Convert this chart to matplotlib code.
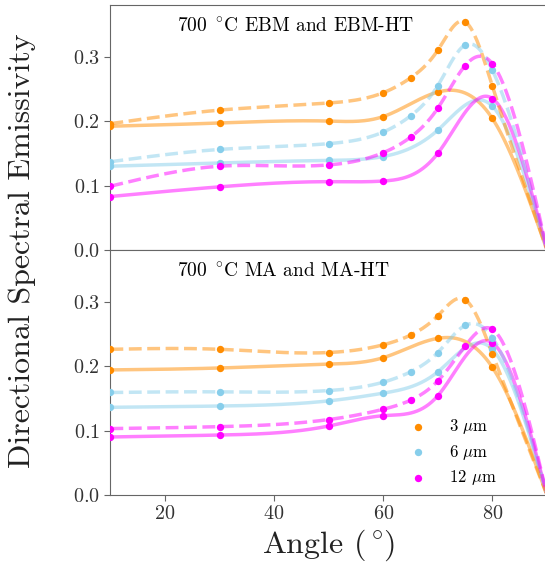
import numpy as np
import matplotlib as mpl; mpl.use("Agg")
import matplotlib.pyplot as plt

mpl.rcParams.update({"font.family": ["cmr10", "DejaVu Serif"], "mathtext.fontset": "cm",
                     "axes.formatter.use_mathtext": True, "axes.unicode_minus": False})

# angles measured (deg); the "fine" set has the extra 65/75 deg points
ang = [10, 30, 50, 60, 70, 80, 90]
ang_fine = [10, 30, 50, 60, 65, 70, 75, 80, 90]

# top panel: 700 C EBM (solid) and EBM-HT (dashed)
ebm_3 = [0.192, 0.197, 0.200, 0.207, 0.245, 0.204, 0.0]
ebm_6 = [0.130, 0.135, 0.139, 0.145, 0.186, 0.223, 0.0]
ebm_12 = [0.083, 0.098, 0.106, 0.107, 0.150, 0.235, 0.0]
ebmht_3 = [0.196, 0.217, 0.228, 0.244, 0.267, 0.310, 0.354, 0.254, 0.0]
ebmht_6 = [0.137, 0.156, 0.165, 0.183, 0.208, 0.255, 0.318, 0.279, 0.0]
ebmht_12 = [0.099, 0.130, 0.132, 0.151, 0.175, 0.220, 0.286, 0.289, 0.0]

# bottom panel: 700 C MA (solid) and MA-HT (dashed)
ma_3 = [0.194, 0.197, 0.203, 0.213, 0.243, 0.198, 0.0]
ma_6 = [0.136, 0.138, 0.146, 0.158, 0.191, 0.226, 0.0]
ma_12 = [0.090, 0.093, 0.107, 0.123, 0.154, 0.236, 0.0]
maht_3 = [0.226, 0.226, 0.221, 0.233, 0.248, 0.278, 0.303, 0.219, 0.0]
maht_6 = [0.159, 0.160, 0.162, 0.175, 0.191, 0.221, 0.263, 0.244, 0.0]
maht_12 = [0.103, 0.106, 0.117, 0.133, 0.147, 0.177, 0.231, 0.257, 0.0]

waves = ["3 $\\mu$m", "6 $\\mu$m", "12 $\\mu$m"]
cols = ["darkorange", "skyblue", "magenta"]


def spline(x, y, n=300):
    # natural cubic spline through the measured points
    x = np.asarray(x, float); y = np.asarray(y, float)
    h = np.diff(x); m = len(x)
    A = np.zeros((m, m)); b = np.zeros(m)
    A[0, 0] = A[-1, -1] = 1
    for i in range(1, m - 1):
        A[i, i - 1], A[i, i], A[i, i + 1] = h[i - 1], 2 * (h[i - 1] + h[i]), h[i]
        b[i] = 6 * ((y[i + 1] - y[i]) / h[i] - (y[i] - y[i - 1]) / h[i - 1])
    M = np.linalg.solve(A, b)
    xs = np.linspace(x[0], x[-1], n)
    k = np.clip(np.searchsorted(x, xs) - 1, 0, m - 2)
    t0 = x[k + 1] - xs; t1 = xs - x[k]
    ys = (M[k] * t0 ** 3 + M[k + 1] * t1 ** 3) / (6 * h[k]) \
        + (y[k] / h[k] - M[k] * h[k] / 6) * t0 + (y[k + 1] / h[k] - M[k + 1] * h[k] / 6) * t1
    return xs, ys


fig = plt.figure(figsize=(5.45, 5.65), dpi=100)
ax1 = fig.add_axes([0.2026, 0.5575, 0.801, 0.4336])
ax2 = fig.add_axes([0.2026, 0.1239, 0.801, 0.4336], sharex=ax1)

panels = [(ax1, [ebm_3, ebm_6, ebm_12], [ebmht_3, ebmht_6, ebmht_12], "700 $^\\circ\\!$C EBM and EBM-HT"),
          (ax2, [ma_3, ma_6, ma_12], [maht_3, maht_6, maht_12], "700 $^\\circ\\!$C MA and MA-HT")]
for ax, solid, dashed, title in panels:
    for ys, c in zip(solid, cols):
        ax.plot(*spline(ang, ys), color=c, alpha=0.5, lw=2.5)
    for ys, c in zip(dashed, cols):
        ax.plot(*spline(ang_fine, ys), color=c, alpha=0.5, lw=2.5, ls="--")
    for ys, c in zip(solid, cols):
        ax.scatter(ang[:-1], ys[:-1], s=28, color=c, zorder=3, lw=0)
    for ys, c, lab in zip(dashed, cols, waves):
        ax.scatter(ang_fine[:-1], ys[:-1], s=28, color=c, zorder=3, lw=0, label=lab)
    ax.text(0.152, 0.91, title, transform=ax.transAxes, ha="left", va="center", fontsize=14)
    ax.set_ylim(0, 0.38); ax.set_xlim(10, 90)
    ax.set_yticks([0.0, 0.1, 0.2, 0.3])
    for s in ax.spines.values():
        s.set_color("#666666")
    ax.tick_params(colors="#666666", labelcolor="#333333", labelsize=14.5, length=4)

ax1.tick_params(axis="x", bottom=False, labelbottom=False)
ax2.set_xticks([20, 40, 60, 80])
ax2.set_xlabel("Angle ($^\\circ\\!$)", fontsize=23, color="#222222", labelpad=3)
ax2.legend(loc="lower right", frameon=False, fontsize=12, handletextpad=0.9,
           bbox_to_anchor=(0.92, -0.03), labelspacing=0.4)
fig.text(0.04, 0.557, "Directional Spectral Emissivity", rotation=90, ha="center", va="center",
         fontsize=23, color="#222222")

fig.savefig("out.png", dpi=100)
